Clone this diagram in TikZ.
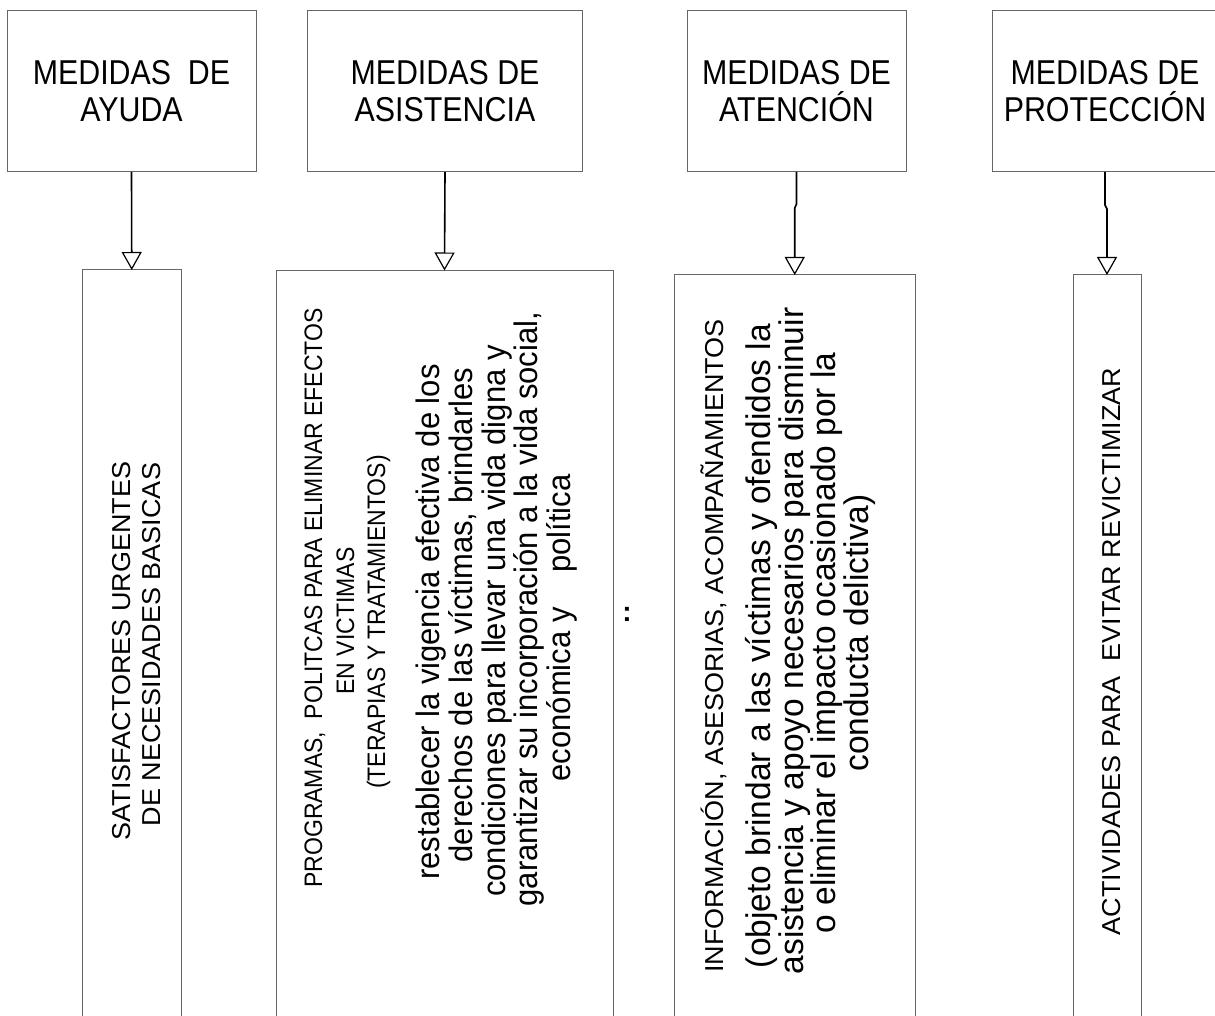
\documentclass[tikz,border=0pt]{standalone}
\usepackage{fontspec}
\setmainfont{Liberation Sans}
\newfontfamily\topfont{Liberation Sans}[FakeStretch=0.88]
\usetikzlibrary{arrows.meta,calc}
\begin{document}
\begin{tikzpicture}[x=1pt,y=-1pt,
  box/.style={draw=black!60, line width=1pt, inner sep=0pt, outer sep=0pt},
  toptext/.style={font=\topfont\fontsize{34.5}{37}\selectfont, align=center},
  arr/.style={line width=1.6pt, draw=black,
    -{Triangle[open, width=20pt, length=18pt, line width=1.2pt]}},
  rl/.style={rotate=90, anchor=base, inner sep=0pt},
  fcap/.style={font=\fontsize{27}{30}\selectfont, yscale=0.96},
  fsmall/.style={font=\fontsize{23}{26}\selectfont, yscale=1.1},
  fmid/.style={font=\fontsize{31}{34}\selectfont, yscale=1.05},
  fbig/.style={font=\fontsize{33.5}{36}\selectfont, yscale=1.02}]
\useasboundingbox (0,0) rectangle (1215,1016);
\fill[white] (0,0) rectangle (1215,1016);
% top boxes
\node[box, toptext, minimum width=249pt, minimum height=161.5pt] (t1) at (131.5,91.25) {MEDIDAS~ DE\\AYUDA};
\node[box, toptext, minimum width=275pt, minimum height=161.5pt] (t2) at (445,91.25) {MEDIDAS DE\\ASISTENCIA};
\node[box, toptext, minimum width=219pt, minimum height=161.5pt] (t3) at (796.5,91.25) {MEDIDAS DE\\ATENCIÓN};
\node[box, toptext, minimum width=226pt, minimum height=161.5pt] (t4) at (1105,91.25) {MEDIDAS DE\\PROTECCIÓN};
% bottom boxes
\node[box, minimum width=98.5pt, minimum height=760pt] (b1) at (131.75,650) {};
\node[box, minimum width=337pt, minimum height=760pt] (b2) at (444.5,650.5) {};
\node[box, minimum width=240.5pt, minimum height=755pt] (b3) at (794.75,652.5) {};
\node[box, minimum width=68pt, minimum height=755pt] (b4) at (1107,652.5) {};
% connectors
\draw[arr] (t1.south) -- (b1.north);
\draw[arr] (t2.south) -- (b2.north);
\draw[arr] (t3.south) -- ($(t3.south)+(0,32)$) -- ($(b3.north|-t3.south)+(0,36)$) -- (b3.north);
\draw[arr] (t4.south) -- ($(t4.south)+(0,33)$) -- ($(b4.north|-t4.south)+(0,37)$) -- (b4.north);
% box 1 text
\node[rl, fcap] (a1) at (130,651) {SATISFACTORES URGENTES};
\node[rl, fcap] (a2) at (160,644.5) {DE NECESIDADES BASICAS};
% box 2 text
\node[rl, fsmall] (p1) at (322,598) {PROGRAMAS,\ \ POLITCAS PARA ELIMINAR EFECTOS};
\node[rl, fsmall] (p2) at (354,621) {EN VICTIMAS};
\node[rl, fsmall] (p3) at (385,622) {(TERAPIAS Y TRATAMIENTOS)};
\node[rl, fmid] (r1) at (439,622) {restablecer la vigencia efectiva de los};
\node[rl, fmid] (r2) at (472,615) {derechos de las víctimas, brindarles};
\node[rl, fmid] (r3) at (505,621) {condiciones para llevar una vida digna y};
\node[rl, fmid] (r4) at (537,609) {garantizar su incorporación a la vida social,};
\node[rl, fmid] (r5) at (570,628) {económica y\ \ \ \ política};
\node[font=\bfseries\fontsize{28}{30}\selectfont, inner sep=0pt] (colon) at (627,614) {:};
% box 3 text
\node[rl, fcap] (i1) at (723.5,646) {INFORMACIÓN, ASESORIAS, ACOMPAÑAMIENTOS};
\node[rl, fbig] (o1) at (770,646) {(objeto brindar a las víctimas y ofendidos la};
\node[rl, fbig] (o2) at (803,641) {asistencia y apoyo necesarios para disminuir};
\node[rl, fbig] (o3) at (835,643) {o eliminar el impacto ocasionado por la};
\node[rl, fbig] (o4) at (868,633) {conducta delictiva)};
% box 4 text
\node[rl, fcap] (v1) at (1120,651.5) {ACTIVIDADES PARA\ \ EVITAR REVICTIMIZAR};
\end{tikzpicture}
\end{document}
